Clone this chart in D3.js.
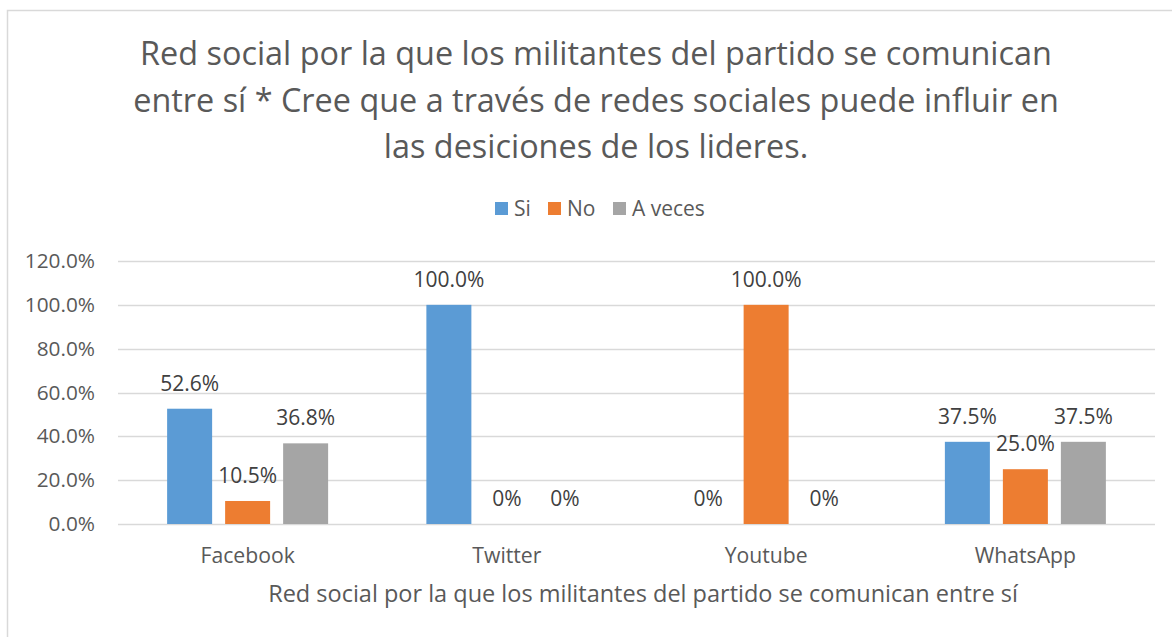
<!DOCTYPE html>
<html>
<head>
<meta charset="utf-8">
<script src="https://cdn.jsdelivr.net/npm/d3@7"></script>
<style>
html,body{margin:0;padding:0;background:#fff;}
svg{display:block;}
text{font-family:"Open Sans","Noto Sans",sans-serif;}
</style>
</head>
<body>
<svg id="chart" width="1172" height="637"></svg>
<script>
const categories = ["Facebook", "Twitter", "Youtube", "WhatsApp"];
const seriesNames = ["Si", "No", "A veces"];
const siValues = [52.6, 100, 0, 37.5];
const noValues = [10.5, 0, 100, 25.0];
const aVecesValues = [36.8, 0, 0, 37.5];
const yTicks = [0, 20, 40, 60, 80, 100, 120];
const titleLines = [
  "Red social por la que los militantes del partido se comunican",
  "entre sí * Cree que a través de redes sociales puede influir en",
  "las desiciones de los lideres."
];
const xAxisTitle = "Red social por la que los militantes del partido se comunican entre sí";
const colors = ["#5B9BD5", "#ED7D31", "#A5A5A5"];

const seriesValues = [siValues, noValues, aVecesValues];
const svg = d3.select("#chart");

// chart border
svg.append("rect").attr("x", 7.5).attr("y", 10.5).attr("width", 1180).attr("height", 640)
  .attr("fill", "#fff").attr("stroke", "#D9D9D9").attr("stroke-width", 1.5);

// title
const title = svg.append("g");
titleLines.forEach((t, i) => {
  title.append("text").attr("x", 596).attr("y", 65 + i * 46.5)
    .attr("text-anchor", "middle").attr("font-size", 32.4).attr("fill", "#595959").text(t);
});

const plot = {left: 118, right: 1155, top: 261, bottom: 524};
const x0 = d3.scaleBand().domain(categories).range([plot.left, plot.right]).padding(0);
const y = d3.scaleLinear().domain([0, 120]).range([plot.bottom, plot.top]);
const barW = 45, step = 58;
const x1 = d3.scaleBand().domain(seriesNames).range([-step * 1.5, step * 1.5]).paddingInner((step - barW) / step).paddingOuter((step - barW) / step / 2);

// gridlines
const yAxis = d3.axisLeft(y).tickValues(yTicks).tickFormat(d => d.toFixed(1) + "%").tickSize(0).tickPadding(23);
const gy = svg.append("g").attr("transform", `translate(${plot.left},0)`).call(yAxis);
gy.select(".domain").remove();
gy.selectAll("text").attr("font-size", 20.8).attr("fill", "#595959").attr("font-family", "Open Sans");
svg.append("g").selectAll("line").data(yTicks).join("line")
  .attr("x1", plot.left).attr("x2", plot.right)
  .attr("y1", d => Math.round(y(d)) + 0.5).attr("y2", d => Math.round(y(d)) + 0.5)
  .attr("stroke", "#D9D9D9").attr("stroke-width", 1.5);

// bars
const groups = svg.append("g").selectAll("g").data(categories).join("g")
  .attr("transform", d => `translate(${x0(d) + x0.bandwidth() / 2},0)`);
groups.each(function(cat, ci) {
  const g = d3.select(this);
  seriesNames.forEach((s, si) => {
    const v = seriesValues[si][ci];
    g.append("rect").attr("x", x1(s)).attr("width", x1.bandwidth())
      .attr("y", y(v)).attr("height", y(0) - y(v)).attr("fill", colors[si]);
    g.append("text").attr("x", x1(s) + x1.bandwidth() / 2).attr("y", y(v) - 18)
      .attr("text-anchor", "middle").attr("font-size", 21).attr("fill", "#404040")
      .text(v === 0 ? "0%" : v.toFixed(1) + "%");
  });
});

// x axis labels
const xAxis = d3.axisBottom(x0).tickSize(0).tickPadding(24);
const gx = svg.append("g").attr("transform", `translate(0,${plot.bottom})`).call(xAxis);
gx.select(".domain").remove();
gx.selectAll("text").attr("font-size", 21.2).attr("fill", "#595959").attr("font-family", "Open Sans");

// axis title
svg.append("text").attr("x", 643).attr("y", 602).attr("text-anchor", "middle")
  .attr("font-size", 23.5).attr("fill", "#595959").text(xAxisTitle);

// legend
const legendX = [495, 548, 613];
const leg = svg.append("g").selectAll("g").data(seriesNames).join("g")
  .attr("transform", (d, i) => `translate(${legendX[i]},202)`);
leg.append("rect").attr("width", 13).attr("height", 13).attr("fill", (d, i) => colors[i]);
leg.append("text").attr("x", 19).attr("y", 14).attr("font-size", 21).attr("fill", "#595959").text(d => d);
</script>
</body>
</html>
